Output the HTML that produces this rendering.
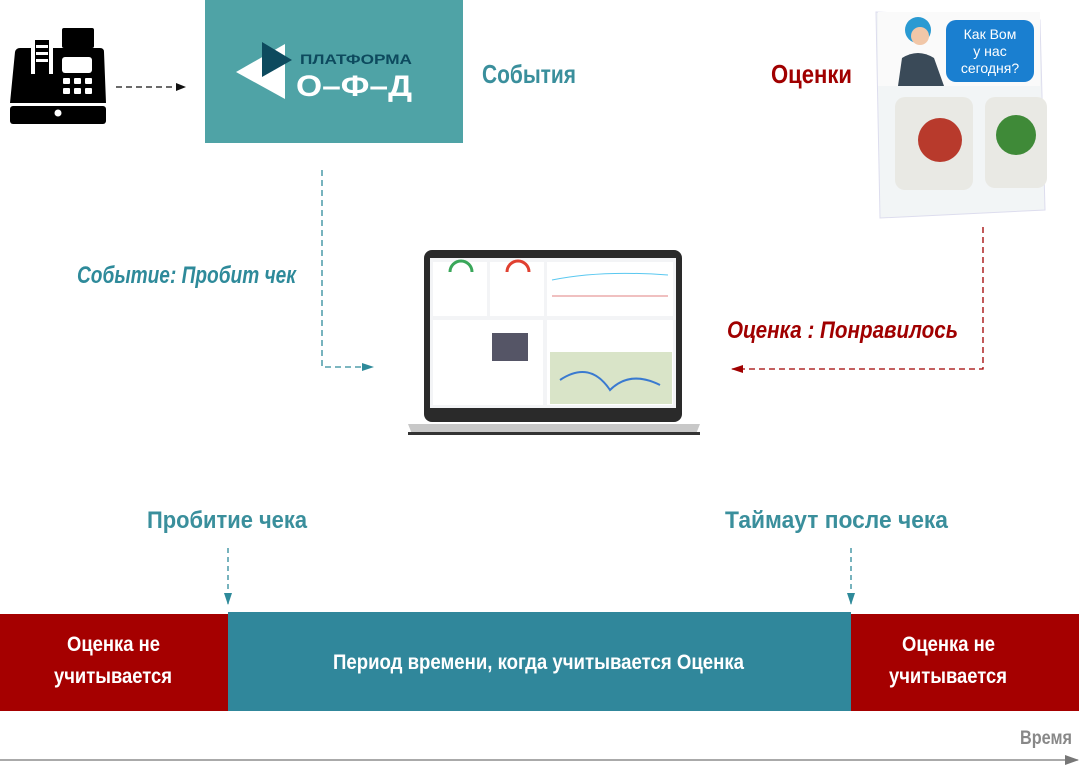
<!DOCTYPE html>
<html><head><meta charset="utf-8"><style>
html,body{margin:0;padding:0;background:#fff;}
svg text{font-family:"Liberation Sans Narrow","Liberation Sans",sans-serif;font-weight:bold;}
</style></head><body>
<svg width="1088" height="765" viewBox="0 0 1088 765" xmlns="http://www.w3.org/2000/svg">
<defs>
<marker id="ab" markerWidth="10" markerHeight="8" refX="9" refY="4" orient="auto" markerUnits="userSpaceOnUse"><path d="M0,0 L10,4 L0,8z" fill="#111"/></marker>
<marker id="at" markerWidth="12" markerHeight="8" refX="11" refY="4" orient="auto" markerUnits="userSpaceOnUse"><path d="M0,0 L12,4 L0,8z" fill="#2e8a9a"/></marker>
<marker id="ar" markerWidth="12" markerHeight="8" refX="11" refY="4" orient="auto" markerUnits="userSpaceOnUse"><path d="M0,0 L12,4 L0,8z" fill="#a00000"/></marker>
<marker id="ag" markerWidth="14" markerHeight="10" refX="13" refY="5" orient="auto" markerUnits="userSpaceOnUse"><path d="M0,0 L14,5 L0,10z" fill="#777"/></marker>
</defs>
<!-- cash register -->
<g fill="#000">
<rect x="62" y="28" width="32" height="20" rx="2"/>
<rect x="74" y="46" width="8" height="6"/>
<path d="M20,48 L100,48 Q104,48 104,52 L106,103 L10,103 L15,52 Q16,48 20,48z"/>
<rect x="10" y="106" width="96" height="18" rx="3"/>
</g>
<rect x="31" y="38" width="22" height="36" fill="#fff"/>
<rect x="35" y="40" width="14" height="34" fill="#000"/>
<rect x="36" y="45" width="12" height="3" fill="#fff"/><rect x="36" y="52" width="12" height="3" fill="#fff"/><rect x="36" y="59" width="12" height="3" fill="#fff"/>
<rect x="62" y="57" width="30" height="16" rx="3" fill="#fff"/>
<g fill="#fff"><rect x="63" y="78" width="7" height="6" rx="1"/><rect x="74" y="78" width="7" height="6" rx="1"/><rect x="85" y="78" width="7" height="6" rx="1"/><rect x="63" y="88" width="7" height="6" rx="1"/><rect x="74" y="88" width="7" height="6" rx="1"/><rect x="85" y="88" width="7" height="6" rx="1"/><circle cx="58" cy="113" r="3.5"/></g>
<line x1="116" y1="87" x2="185" y2="87" stroke="#111" stroke-width="1.3" stroke-dasharray="6,4" marker-end="url(#ab)"/>
<!-- OFD -->
<rect x="205" y="0" width="258" height="143" fill="#4fa3a6"/>
<path d="M285,44 L285,99 L236,72z" fill="#fff"/>
<path d="M262,42 L292,60 L262,77z" fill="#0d4a5e"/>
<text x="300" y="64" font-size="14" fill="#0d4a5e" textLength="112" lengthAdjust="spacingAndGlyphs" style="font-family:'Liberation Sans',sans-serif">ПЛАТФОРМА</text>
<text x="296" y="96" font-size="30" fill="#fff" textLength="116" lengthAdjust="spacingAndGlyphs" style="font-family:'Liberation Sans',sans-serif">О–Ф–Д</text>
<text x="482" y="83" font-size="26" fill="#3a8f9c" textLength="94" lengthAdjust="spacingAndGlyphs">События</text>
<text x="771" y="83" font-size="26" fill="#a00000" textLength="81" lengthAdjust="spacingAndGlyphs">Оценки</text>
<!-- rating stand -->
<path d="M876,12 L1040,20 L1045,210 L880,218z" fill="#f2f5f6" stroke="#dde" />
<rect x="878" y="12" width="162" height="74" fill="#fafafa"/>
<rect x="946" y="20" width="88" height="62" rx="10" fill="#1a7fd0"/>
<text x="990" y="39" font-size="14" fill="#fff" text-anchor="middle" style="font-weight:normal">Как Вом</text>
<text x="990" y="56" font-size="14" fill="#fff" text-anchor="middle" style="font-weight:normal">у нас</text>
<text x="990" y="73" font-size="14" fill="#fff" text-anchor="middle" style="font-weight:normal">сегодня?</text>
<circle cx="918" cy="30" r="13" fill="#2a9ad2"/><circle cx="920" cy="36" r="9" fill="#f1c7a8"/>
<path d="M898,86 L902,58 Q918,48 934,58 L944,86z" fill="#3a4a58"/>
<rect x="895" y="97" width="78" height="93" rx="10" fill="#e9e9e4"/>
<rect x="985" y="97" width="62" height="91" rx="10" fill="#e9e9e4"/>
<circle cx="940" cy="140" r="22" fill="#b83a2c"/><circle cx="1016" cy="135" r="20" fill="#3f8a38"/>
<!-- dashed teal -->
<polyline points="322,170 322,367 373,367" fill="none" stroke="#2e8a9a" stroke-width="1.3" stroke-dasharray="6,4" marker-end="url(#at)"/>
<text x="77" y="283" font-size="24" fill="#2e8a9a" font-style="italic" textLength="219" lengthAdjust="spacingAndGlyphs">Событие: Пробит чек</text>
<polyline points="983,227 983,369 732,369" fill="none" stroke="#a00000" stroke-width="1.3" stroke-dasharray="6,4" marker-end="url(#ar)"/>
<text x="727" y="338" font-size="24" fill="#a00000" font-style="italic" textLength="231" lengthAdjust="spacingAndGlyphs">Оценка : Понравилось</text>
<!-- laptop -->
<rect x="424" y="250" width="258" height="172" rx="8" fill="#2a2a2a"/>
<rect x="430" y="258" width="246" height="150" fill="#f3f4f6"/>
<rect x="433" y="262" width="54" height="54" fill="#fff"/><rect x="490" y="262" width="54" height="54" fill="#fff"/>
<path d="M450,272 A11,11 0 0 1 472,272" stroke="#3aa75a" stroke-width="3" fill="none"/>
<path d="M507,272 A11,11 0 0 1 529,272" stroke="#e04030" stroke-width="3" fill="none"/>
<rect x="547" y="262" width="126" height="54" fill="#fff"/>
<path d="M552,280 Q600,270 668,275" stroke="#5ac8f0" fill="none"/><path d="M552,296 L668,296" stroke="#e08080" fill="none"/>
<rect x="433" y="320" width="110" height="85" fill="#fff"/>
<rect x="492" y="333" width="36" height="28" fill="#556"/>
<rect x="547" y="320" width="126" height="85" fill="#fff"/>
<rect x="550" y="352" width="122" height="52" fill="#d9e4c8"/>
<path d="M560,380 Q590,360 610,390 Q630,370 660,385" stroke="#3a7ad0" fill="none" stroke-width="2"/>
<path d="M408,424 L700,424 L696,434 L412,434z" fill="#c8c8c8"/>
<rect x="408" y="432" width="292" height="3" fill="#333"/>
<!-- labels -->
<text x="147" y="528" font-size="24" fill="#3a8f9c" textLength="160" lengthAdjust="spacingAndGlyphs">Пробитие чека</text>
<text x="725" y="528" font-size="24" fill="#3a8f9c" textLength="223" lengthAdjust="spacingAndGlyphs">Таймаут после  чека</text>
<line x1="228" y1="548" x2="228" y2="604" stroke="#2e8a9a" stroke-width="1.3" stroke-dasharray="5,4" marker-end="url(#at)"/>
<line x1="851" y1="548" x2="851" y2="604" stroke="#2e8a9a" stroke-width="1.3" stroke-dasharray="5,4" marker-end="url(#at)"/>
<!-- bar -->
<rect x="0" y="614" width="228" height="97" fill="#a50000"/>
<rect x="228" y="612" width="623" height="99" fill="#30879b"/>
<rect x="851" y="614" width="228" height="97" fill="#a50000"/>
<text x="67" y="651" font-size="21" fill="#fff" textLength="93" lengthAdjust="spacingAndGlyphs">Оценка не</text>
<text x="54" y="683" font-size="21" fill="#fff" textLength="118" lengthAdjust="spacingAndGlyphs">учитывается</text>
<text x="333" y="669" font-size="21" fill="#fff" textLength="411" lengthAdjust="spacingAndGlyphs">Период времени, когда учитывается Оценка</text>
<text x="902" y="651" font-size="21" fill="#fff" textLength="93" lengthAdjust="spacingAndGlyphs">Оценка не</text>
<text x="889" y="683" font-size="21" fill="#fff" textLength="118" lengthAdjust="spacingAndGlyphs">учитывается</text>
<text x="1020" y="744" font-size="19" fill="#888" textLength="52" lengthAdjust="spacingAndGlyphs">Время</text>
<line x1="0" y1="760" x2="1078" y2="760" stroke="#777" stroke-width="1.3" marker-end="url(#ag)"/>
</svg>
</body></html>
